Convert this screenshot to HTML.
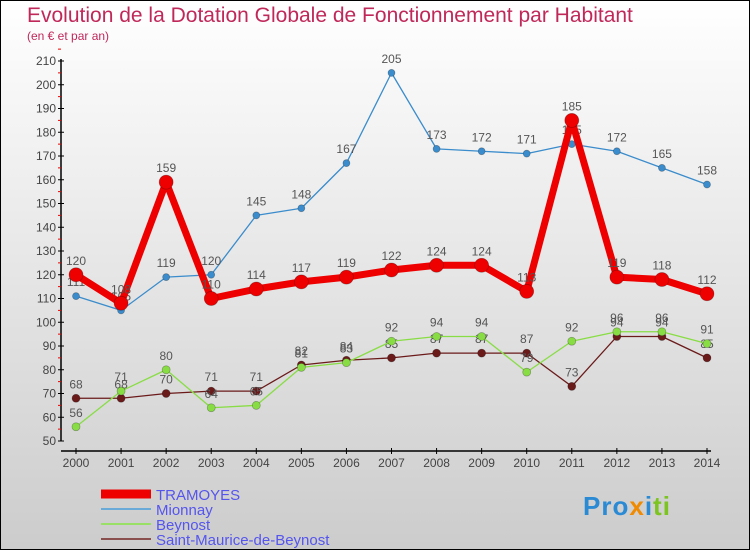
<!DOCTYPE html>
<html><head><meta charset="utf-8"><style>
body{margin:0}
#wrap{position:relative;width:748px;height:548px;border:1px solid #000;background:linear-gradient(#fff,#ccc);font-family:"Liberation Sans",sans-serif;overflow:hidden}
.t{position:absolute;color:#c0285a;white-space:nowrap}
</style></head><body>
<div id="wrap">
<div class="t" style="left:26px;top:3px;font-size:21px">Evolution de la Dotation Globale de Fonctionnement par Habitant</div>
<div class="t" style="left:26px;top:28px;font-size:12px">(en € et par an)</div>
<svg id="c" width="748" height="548" style="position:absolute;left:0;top:0"></svg>
<div style="position:absolute;left:582px;top:490px;font-size:26px;font-weight:bold;letter-spacing:1px"><span style="color:#2a8ad4">Pro</span><span style="color:#f08a00">x</span><span style="color:#2a8ad4">i</span><span style="color:#7cc420">ti</span></div>
</div>
<script>
const years=[2000,2001,2002,2003,2004,2005,2006,2007,2008,2009,2010,2011,2012,2013,2014];
const tramoyes=[120,108,159,110,114,117,119,122,124,124,113,185,119,118,112];
const mionnay=[111,105,119,120,145,148,167,205,173,172,171,175,172,165,158];
const beynost=[56,71,80,64,65,81,83,92,94,94,79,92,96,96,91];
const saintMaurice=[68,68,70,71,71,82,84,85,87,87,87,73,94,94,85];
const yTicks=[50,60,70,80,90,100,110,120,130,140,150,160,170,180,190,200,210];
const ns="http://www.w3.org/2000/svg",svg=document.getElementById('c');
const X=i=>75+i*(706-75)/14, Y=v=>440-(v-50)*(380/160);
function mk(t,a,p){const e=document.createElementNS(ns,t);for(const k in a)e.setAttribute(k,a[k]);(p||svg).appendChild(e);return e;}
mk('line',{x1:60,y1:58,x2:60,y2:440,stroke:'#000','stroke-width':1.5});
mk('line',{x1:60,y1:450,x2:710,y2:450,stroke:'#000','stroke-width':1.5});
yTicks.forEach(v=>{const l=mk('line',{x1:57,x2:63,y1:Y(v),y2:Y(v),stroke:'#000'});
 mk('line',{x1:57,x2:60,y1:Y(v+5),y2:Y(v+5),stroke:'#e00'});
 const t=mk('text',{x:55,y:Y(v)+4,'text-anchor':'end','font-size':12,fill:'#444'});t.textContent=v;});
years.forEach((y,i)=>{mk('line',{x1:X(i),x2:X(i),y1:447,y2:453,stroke:'#000'});
 const t=mk('text',{x:X(i),y:466,'text-anchor':'middle','font-size':12,fill:'#444'});t.textContent=y;});
function series(d,col,w,r,name){const g=mk('g',{});
 mk('polyline',{points:d.map((v,i)=>X(i)+','+Y(v)).join(' '),fill:'none',stroke:col,'stroke-width':w,'stroke-linejoin':'round'},g);
 d.forEach((v,i)=>{const c=mk('circle',{cx:X(i),cy:Y(v),r:r,fill:col,stroke:'rgba(0,0,0,0.3)','stroke-width':0.7},g);
  const t=mk('text',{x:X(i),y:Y(v)-10,'text-anchor':'middle','font-size':12,fill:'#555'},g);t.textContent=v;});}
series(saintMaurice,'#6b1a1a',1.3,4,'saint-maurice-series');
series(beynost,'#88dd44',1.3,4,'beynost-series');
series(mionnay,'#3a8ccc',1.3,3.5,'mionnay-series');
series(tramoyes,'#ee0000',7,7,'tramoyes-series');
const leg=[['TRAMOYES','#ee0000',9],['Mionnay','#6aaad8',2],['Beynost','#99e066',2],['Saint-Maurice-de-Beynost','#8a5050',2]];
leg.forEach((l,i)=>{const y=493+i*15;mk('line',{x1:100,x2:150,y1:y,y2:y,stroke:l[1],'stroke-width':l[2]});
 const t=mk('text',{x:155,y:y+6,'font-size':15,fill:'#5555ee'});t.textContent=l[0];});
</script>
</body></html>
